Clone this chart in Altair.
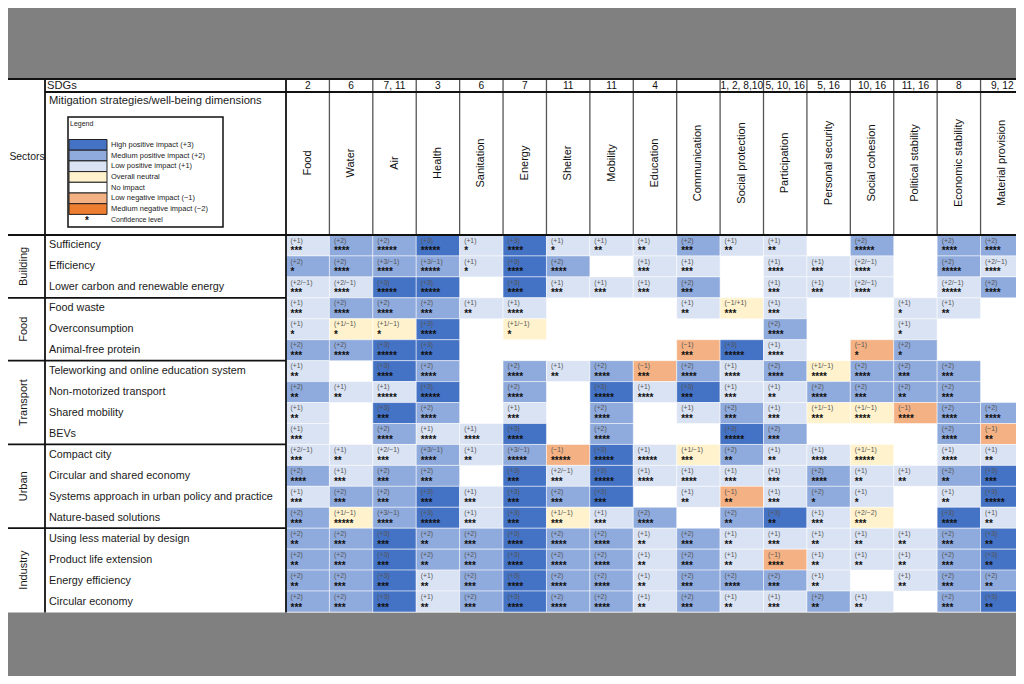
import altair as alt
import pandas as pd

# ---------------- data ----------------
SDGS = ["2", "6", "7, 11", "3", "6", "7", "11", "11", "4", "", "1, 2, 8,10",
        "5, 10, 16", "5, 16", "10, 16", "11, 16", "8", "9, 12"]
DIMENSIONS = ["Food", "Water", "Air", "Health", "Sanitation", "Energy", "Shelter",
              "Mobility", "Education", "Communication", "Social protection",
              "Participation", "Personal security", "Social cohesion",
              "Political stability", "Economic stability", "Material provision"]
SECTORS = ["Building", "Food", "Transport", "Urban", "Industry"]
SECTOR_SIZES = [3, 3, 4, 4, 4]
STRATEGIES = [
    "Sufficiency", "Efficiency", "Lower carbon and renewable energy",
    "Food waste", "Overconsumption", "Animal-free protein",
    "Teleworking and online education system", "Non-motorized transport",
    "Shared mobility", "BEVs",
    "Compact city", "Circular and shared economy",
    "Systems approach in urban policy and practice", "Nature-based solutions",
    "Using less material by design", "Product life extension",
    "Energy efficiency", "Circular economy"]

IMPACTS = [
    ["+1", "+2", "+2", "+3", "+1", "+3", "+1", "+1", "+1", "+2", "+1", "+1", "", "+2", "", "+2", "+2"],
    ["+2", "+2", "+3/-1", "+3/-1", "+1", "+3", "+2", "", "+1", "+1", "", "+1", "+1", "+2/-1", "", "+2", "+2/-1"],
    ["+2/-1", "+2/-1", "+3", "+3", "", "+3", "+1", "+1", "+1", "+2", "", "+1", "+1", "+2/-1", "", "+2/-1", "+2"],
    ["+1", "+2", "+2", "+2", "+1", "+1", "", "", "", "+1", "-1/+1", "+1", "", "", "+1", "+1", ""],
    ["+1", "+1/-1", "+1/-1", "+3", "", "+1/-1", "", "", "", "", "", "+2", "", "", "+1", "", ""],
    ["+2", "+2", "+3", "+3", "", "", "", "", "", "-1", "+3", "+1", "", "-1", "+2", "", ""],
    ["+1", "", "+3", "+2", "", "+2", "+1", "+2", "-1", "+2", "+1", "+2", "+1/-1", "+2", "+2", "+2", ""],
    ["+2", "+1", "+1", "+3", "", "+2", "", "+3", "+1", "+3", "+1", "+1", "+2", "+2", "+2", "+2", ""],
    ["+1", "", "+3", "+2", "", "+1", "", "+2", "", "+1", "+2", "+1", "+1/-1", "+1/-1", "-1", "+2", "+2"],
    ["+1", "", "+2", "+1", "+1", "+3", "", "+2", "", "", "+3", "+2", "", "", "", "+2", "-1"],
    ["+2/-1", "+1", "+2/-1", "+3/-1", "+1", "+3/-1", "-1", "+3", "+1", "+1/-1", "+2", "+1", "+1", "+1/-1", "", "+1", "+1"],
    ["+2", "+1", "+2", "+2", "", "+3", "+2/-1", "+3", "+1", "+1", "+1", "+1", "+2", "+1", "+1", "+2", "+3"],
    ["+1", "+2", "+2", "+3", "+1", "+3", "+2", "+3", "", "+1", "-1", "+1", "+2", "+1", "", "+1", "+3"],
    ["+2", "+1/-1", "+3/-1", "+3", "+1", "+3", "+1/-1", "+1", "+2", "", "+2", "+3", "+1", "+2/-2", "", "+3", "+1"],
    ["+2", "+2", "+3", "+2", "+2", "+3", "+2", "+2", "+1", "+2", "+1", "+1", "+1", "+1", "+1", "+2", "+3"],
    ["+2", "+2", "+3", "+2", "+2", "+3", "+2", "+2", "+1", "+2", "+1", "-1", "+1", "+1", "+1", "+2", "+3"],
    ["+2", "+2", "+3", "+1", "+2", "+3", "+2", "+2", "+1", "+2", "+2", "+2", "+1", "", "+1", "+2", "+2"],
    ["+2", "+2", "+3", "+1", "+2", "+3", "+2", "+2", "+1", "+2", "+1", "+1", "+2", "+1", "", "+2", "+3"],
]
STARS = [
    [3, 4, 5, 5, 1, 4, 1, 2, 2, 3, 2, 2, 0, 5, 0, 4, 4],
    [1, 4, 4, 5, 1, 4, 4, 0, 3, 3, 0, 4, 3, 4, 0, 5, 4],
    [3, 4, 5, 5, 0, 4, 3, 3, 3, 3, 0, 3, 3, 4, 0, 5, 4],
    [3, 4, 4, 3, 2, 4, 0, 0, 0, 2, 3, 3, 0, 0, 1, 2, 0],
    [1, 1, 1, 4, 0, 1, 0, 0, 0, 0, 0, 4, 0, 0, 1, 0, 0],
    [3, 4, 5, 3, 0, 0, 0, 0, 0, 3, 5, 4, 0, 1, 1, 0, 0],
    [2, 0, 4, 4, 0, 4, 2, 4, 3, 4, 4, 4, 4, 4, 3, 3, 0],
    [2, 2, 5, 5, 0, 4, 0, 5, 4, 3, 3, 2, 4, 3, 2, 3, 0],
    [2, 0, 3, 4, 0, 3, 0, 4, 0, 3, 3, 3, 3, 4, 4, 4, 4],
    [3, 0, 4, 4, 4, 4, 0, 4, 0, 0, 5, 3, 0, 0, 0, 4, 2],
    [3, 2, 3, 4, 2, 5, 5, 5, 5, 3, 2, 2, 4, 5, 0, 4, 2],
    [4, 3, 3, 3, 0, 3, 3, 5, 4, 4, 3, 3, 4, 2, 2, 2, 3],
    [3, 3, 3, 3, 3, 3, 3, 3, 0, 2, 2, 3, 1, 1, 0, 2, 5],
    [3, 5, 4, 5, 3, 3, 3, 3, 4, 0, 2, 2, 3, 3, 0, 4, 2],
    [2, 3, 3, 2, 3, 4, 4, 4, 2, 3, 2, 3, 2, 2, 2, 3, 2],
    [2, 3, 3, 2, 3, 4, 4, 4, 2, 3, 2, 4, 2, 2, 2, 3, 2],
    [2, 3, 3, 2, 3, 4, 4, 4, 2, 3, 4, 3, 2, 0, 2, 3, 2],
    [3, 3, 3, 2, 3, 4, 4, 4, 2, 3, 2, 3, 2, 2, 0, 3, 2],
]

LEGEND_LABELS = ["High positive impact (+3)", "Medium positive impact (+2)",
                 "Low positive impact (+1)", "Overall neutral", "No impact",
                 "Low negative impact (\u22121)", "Medium negative impact (\u22122)"]
LEGEND_LEVELS = ["3", "2", "1", "0", "none", "-1", "-2"]
LEVEL_COLORS = ["#4472C4", "#8FAADC", "#DAE3F3", "#FFF2CC", "#FFFFFF", "#F4B183", "#ED7D31"]

# ---------------- layout (column / row units) ----------------
W = 43.41   # px per dimension column
H = 20.944  # px per strategy row


def cx(p):
    return (p - 286.0) / W


def cy(p):
    return (p - 235.0) / H


XS = alt.Scale(domain=[cx(8), cx(1016)], nice=False, zero=False)
YS = alt.Scale(domain=[cy(8), cy(676)], nice=False, zero=False, reverse=True)
FONT = "Liberation Sans"


def X(f="x"):
    return alt.X(f"{f}:Q", scale=XS, axis=None)


def Y(f="y"):
    return alt.Y(f"{f}:Q", scale=YS, axis=None)


# ---------------- cells ----------------
recs = []
for r, row in enumerate(IMPACTS):
    for c, imp in enumerate(row):
        if not imp:
            continue
        net = sum(int(p) for p in imp.split("/"))
        recs.append(dict(
            x=c, x2=c + 1, y=r, y2=r + 1, level=str(net),
            label="(" + imp.replace("-", "\u2212") + ")",
            stars="*" * STARS[r][c],
            tx=c + 4.5 / W, ty1=r + 0.27, ty2=r + 0.93))
cells = pd.DataFrame(recs)

color_scale = alt.Scale(domain=LEGEND_LEVELS, range=LEVEL_COLORS)

table_bg = alt.Chart(pd.DataFrame([dict(x=cx(0), x2=cx(1024), y=cy(79), y2=cy(612.5))])).mark_rect(
    color="white").encode(x=X(), x2="x2:Q", y=Y(), y2="y2:Q")

cell_rects = alt.Chart(cells).mark_rect(stroke="white", strokeWidth=0.5).encode(
    x=X(), x2="x2:Q", y=Y(), y2="y2:Q",
    color=alt.Color("level:N", scale=color_scale, legend=None))

cell_imp = alt.Chart(cells).mark_text(
    align="left", baseline="middle", fontSize=6.8, font=FONT, color="#555555").encode(
    x=X("tx"), y=Y("ty1"), text="label:N")

cell_stars = alt.Chart(cells).mark_text(
    align="left", baseline="alphabetic", fontSize=10, font=FONT, fontWeight="bold",
    color="#111111").encode(x=X("tx"), y=Y("ty2"), text="stars:N")

# ---------------- grid lines ----------------
thick = [
    dict(x=cx(45), x2=cx(45), y=cy(79), y2=cy(612.5)),
    dict(x=0, x2=0, y=cy(79), y2=cy(612.5)),
    dict(x=cx(0), x2=cx(1024), y=0, y2=0),
    dict(x=cx(45), x2=cx(1024), y=cy(92), y2=cy(92)),
    dict(x=cx(0), x2=cx(1024), y=cy(79), y2=cy(79)),
]
acc = 0
for n in SECTOR_SIZES[:-1]:
    acc += n
    thick.append(dict(x=cx(0), x2=0, y=acc, y2=acc))
thin = [dict(x=c, x2=c, y=cy(79), y2=0) for c in range(1, len(DIMENSIONS) + 1)]

thick_rules = alt.Chart(pd.DataFrame(thick)).mark_rule(color="#111111", strokeWidth=1.8).encode(
    x=X(), x2="x2:Q", y=Y(), y2="y2:Q")
thin_rules = alt.Chart(pd.DataFrame(thin)).mark_rule(color="#555555", strokeWidth=1.3).encode(
    x=X(), x2="x2:Q", y=Y(), y2="y2:Q")

# ---------------- header texts ----------------
dims = pd.DataFrame(dict(x=[c + 0.5 for c in range(len(DIMENSIONS))],
                         y=[cy(163)] * len(DIMENSIONS), t=DIMENSIONS))
dim_text = alt.Chart(dims).mark_text(angle=270, align="center", baseline="middle",
                                     fontSize=11, font=FONT, color="#111111").encode(
    x=X(), y=Y(), text="t:N")

sdg = pd.DataFrame(dict(x=[c + 0.5 for c in range(len(SDGS))],
                        y=[cy(85.5)] * len(SDGS), t=SDGS))
sdg_text = alt.Chart(sdg).mark_text(align="center", baseline="middle", fontSize=10.2,
                                    font=FONT, color="#111111").encode(
    x=X(), y=Y(), text="t:N")

strat = pd.DataFrame(dict(x=[cx(49)] * len(STRATEGIES),
                          y=[r + 0.5 for r in range(len(STRATEGIES))], t=STRATEGIES))
strat_text = alt.Chart(strat).mark_text(align="left", baseline="middle", fontSize=10.8,
                                        font=FONT, color="#1a1a1a").encode(
    x=X(), y=Y(), text="t:N")

sec_y = []
acc = 0
for n in SECTOR_SIZES:
    sec_y.append(acc + n / 2)
    acc += n
sec = pd.DataFrame(dict(x=[cx(24)] * len(SECTORS), y=sec_y, t=SECTORS))
sec_text = alt.Chart(sec).mark_text(angle=270, align="center", baseline="middle",
                                    fontSize=11, font=FONT, color="#1a1a1a").encode(
    x=X(), y=Y(), text="t:N")

titles = pd.DataFrame([dict(x=cx(27), y=cy(157), t="Sectors")])
sectors_title = alt.Chart(titles).mark_text(align="center", baseline="middle", fontSize=10.4,
                                            font=FONT, color="#1a1a1a").encode(
    x=X(), y=Y(), text="t:N")
left_titles = pd.DataFrame([
    dict(x=cx(47), y=cy(85.5), t="SDGs"),
    dict(x=cx(49), y=cy(100.5), t="Mitigation strategies/well-being dimensions"),
])
left_title_text = alt.Chart(left_titles).mark_text(align="left", baseline="middle", fontSize=11.2,
                                                   font=FONT, color="#1a1a1a").encode(
    x=X(), y=Y(), text="t:N")

# ---------------- legend ----------------
legend_box = alt.Chart(pd.DataFrame([dict(x=cx(68), x2=cx(223), y=cy(117), y2=cy(227))])).mark_rect(
    fill="white", stroke="#111111", strokeWidth=1.5).encode(x=X(), x2="x2:Q", y=Y(), y2="y2:Q")

LH = 10.7
sw = pd.DataFrame(dict(
    x=[cx(69)] * 7, x2=[cx(107)] * 7,
    y=[cy(139.5 + k * LH) for k in range(7)],
    y2=[cy(139.5 + (k + 1) * LH) for k in range(7)],
    ty=[cy(139.5 + (k + 0.5) * LH) for k in range(7)],
    tx=[cx(111)] * 7,
    level=LEGEND_LEVELS, t=LEGEND_LABELS))
legend_sw = alt.Chart(sw).mark_rect(stroke="#222222", strokeWidth=1).encode(
    x=X(), x2="x2:Q", y=Y(), y2="y2:Q",
    color=alt.Color("level:N", scale=color_scale, legend=None))
legend_lbl = alt.Chart(sw).mark_text(align="left", baseline="middle", fontSize=7.5,
                                     font=FONT, color="#222222").encode(
    x=X("tx"), y=Y("ty"), text="t:N")
legend_extra = pd.DataFrame([
    dict(x=cx(70), y=cy(123.5), t="Legend"),
    dict(x=cx(111), y=cy(219.5), t="Confidence level"),
])
legend_extra_text = alt.Chart(legend_extra).mark_text(align="left", baseline="middle", fontSize=7,
                                                      font=FONT, color="#222222").encode(
    x=X(), y=Y(), text="t:N")
legend_star = alt.Chart(pd.DataFrame([dict(x=cx(87), y=cy(223.5), t="*")])).mark_text(
    align="center", baseline="alphabetic", fontSize=10, fontWeight="bold", font=FONT,
    color="#111111").encode(x=X(), y=Y(), text="t:N")

chart = alt.layer(
    table_bg, cell_rects, cell_imp, cell_stars, thin_rules, thick_rules,
    dim_text, sdg_text, strat_text, sec_text, sectors_title, left_title_text,
    legend_box, legend_sw, legend_lbl, legend_extra_text, legend_star,
).properties(
    width=1008, height=668, padding=0, autosize="none", background="#808080"
).configure_view(stroke=None)

chart.save("out.html", embed_options={"renderer": "svg", "actions": False})
